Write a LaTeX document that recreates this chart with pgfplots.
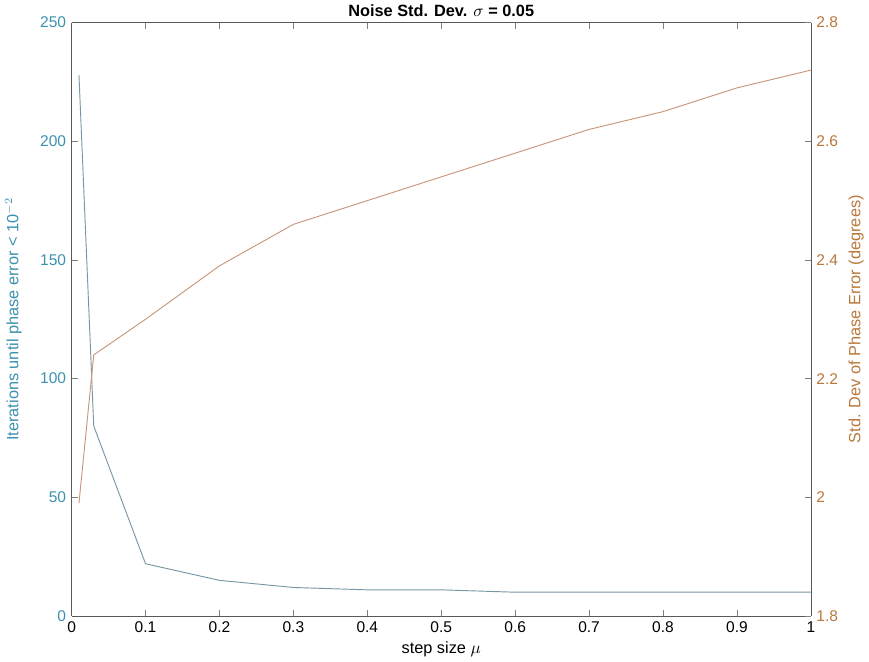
\documentclass[border=0pt]{standalone}
\usepackage{pgfplots}
\pgfplotsset{compat=1.18}
\usepackage{fontspec}
\setmainfont{Liberation Sans}
\definecolor{lblue}{RGB}{60,145,175}
\definecolor{lorange}{RGB}{185,120,60}
\definecolor{lineblue}{RGB}{120,150,165}
\definecolor{lineorange}{RGB}{200,150,120}
\begin{document}
\begin{tikzpicture}
\begin{axis}[
  scale only axis, width=476pt, height=382pt,
  xmin=0, xmax=1, ymin=0, ymax=250,
  xtick={0,0.1,...,1}, ytick={0,50,...,250},
  xticklabels={0,0.1,0.2,0.3,0.4,0.5,0.6,0.7,0.8,0.9,1},
  xtick pos=both, ytick pos=left, tick align=inside,
  axis y line*=left,
  axis line style={gray!70!black, line width=0.5pt},
  major tick length=4pt,
  /pgf/number format/assume math mode=true,
  tick label style={font=\fontsize{10}{12}\selectfont},
  yticklabel style={color=lblue},
  xlabel={step size $\mu$},
  xlabel style={font=\fontsize{10.5}{12}\selectfont, yshift=1pt},
  ylabel={Iterations until phase error < 10$^{-2}$},
  ylabel style={color=lblue, font=\fontsize{10.5}{12}\selectfont, yshift=5pt},
  title={\textbf{Noise Std. Dev. $\sigma$ = 0.05}},
  title style={font=\fontsize{10.5}{12}\selectfont, yshift=-6pt},
]
\addplot[color=lineblue, line width=0.6pt] coordinates {
(0.01,228) (0.03,80) (0.1,22) (0.2,15) (0.3,12) (0.4,11) (0.5,11) (0.6,10) (0.7,10) (0.8,10) (0.9,10) (1,10)
};
\end{axis}
\begin{axis}[
  scale only axis, width=476pt, height=382pt,
  xmin=0, xmax=1, ymin=1.8, ymax=2.8,
  axis x line=none,
  axis y line*=right, ytick pos=right, tick align=inside,
  ytick={1.8,2,2.2,2.4,2.6,2.8},
  yticklabels={1.8,2,2.2,2.4,2.6,2.8},
  axis line style={gray!70!black, line width=0.5pt},
  major tick length=4pt,
  /pgf/number format/assume math mode=true,
  tick label style={font=\fontsize{10}{12}\selectfont},
  yticklabel style={color=lorange},
  ylabel={Std. Dev of Phase Error (degrees)},
  ylabel style={color=lorange, font=\fontsize{10.5}{12}\selectfont},
]
\addplot[color=lineorange, line width=0.6pt] coordinates {
(0.01,1.99) (0.03,2.24) (0.1,2.30) (0.2,2.39) (0.3,2.46) (0.4,2.50) (0.5,2.54) (0.6,2.58) (0.7,2.62) (0.8,2.65) (0.9,2.69) (1,2.72)
};
\end{axis}
\end{tikzpicture}
\end{document}
